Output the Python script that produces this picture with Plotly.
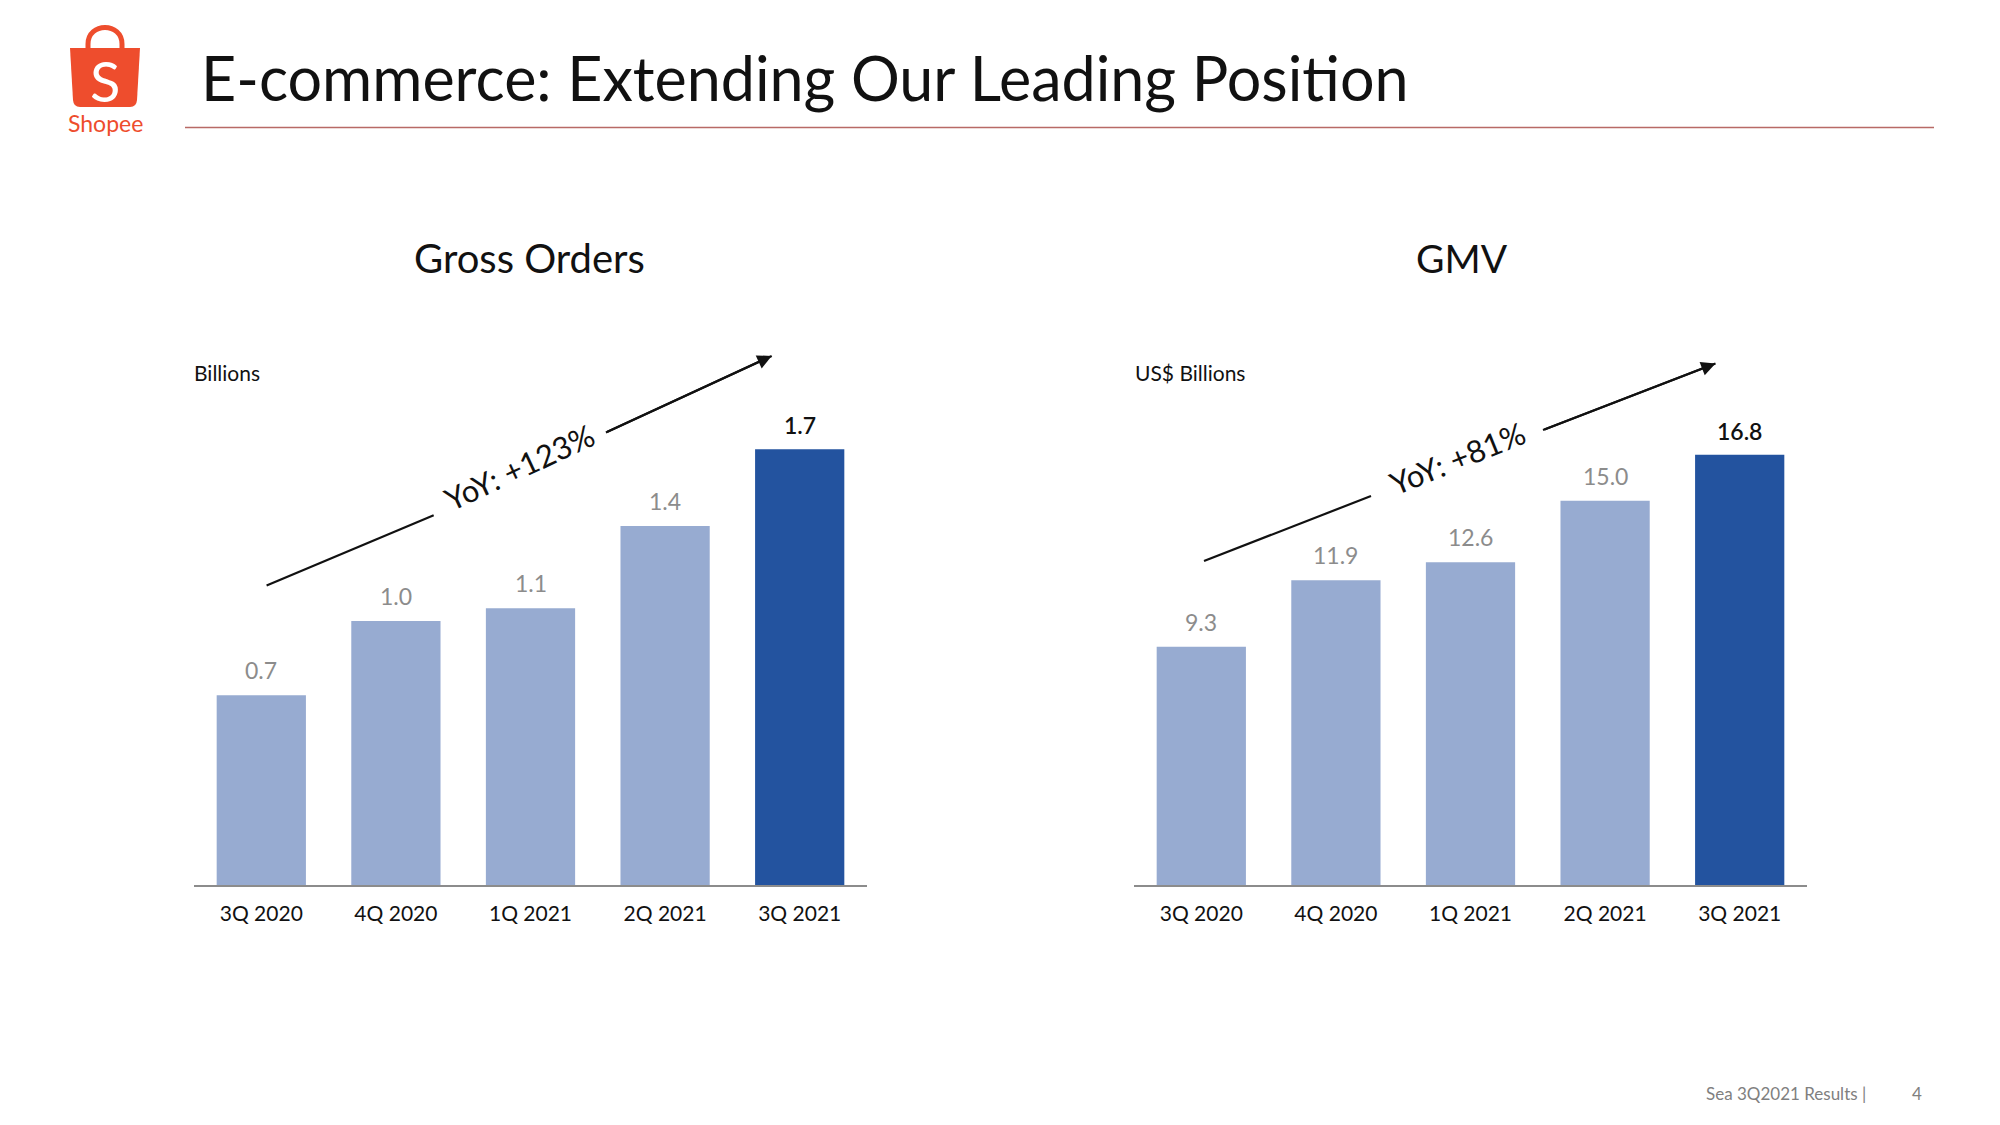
import plotly.graph_objects as go

W, H = 2000, 1125
OFF = 8  # page body margin of the browser

# ---------------- data ----------------
quarters = ["3Q 2020", "4Q 2020", "1Q 2021", "2Q 2021", "3Q 2021"]
gross_orders = [0.74, 1.03, 1.08, 1.40, 1.70]   # billions
gmv = [9.3, 11.9, 12.6, 15.0, 16.8]              # US$ billions
yoy_orders = "YoY: +123%"
yoy_gmv = "YoY: +81%"

LIGHT = "#97abd1"
DARK = "#23539f"
ORANGE = "#ee4d2d"
FONT = "Lato"


def px(x):
    return (x - OFF) / W


def py(y):
    return 1 - (y - OFF) / H


bar_colors = [LIGHT] * (len(quarters) - 1) + [DARK]

fig = go.Figure()
fig.add_trace(go.Bar(x=quarters, y=gross_orders, marker=dict(color=bar_colors, line=dict(width=0)),
                     xaxis="x", yaxis="y", hoverinfo="x+y"))
fig.add_trace(go.Bar(x=quarters, y=gmv, marker=dict(color=bar_colors, line=dict(width=0)),
                     xaxis="x2", yaxis="y2", hoverinfo="x+y"))


def label(x, y, text, size, color="#111111", xanchor="center", yanchor="middle", **kw):
    return dict(x=px(x), y=py(y), xref="paper", yref="paper", text=text, showarrow=False,
                xanchor=xanchor, yanchor=yanchor,
                font=dict(family=FONT, size=size, color=color), **kw)


annotations = []
# data labels from the data
for xa, ya, vals in (("x", "y", gross_orders), ("x2", "y2", gmv)):
    for i, (q, v) in enumerate(zip(quarters, vals)):
        last = i == len(vals) - 1
        annotations.append(dict(
            x=q, y=v, xref=xa, yref=ya, text=f"{v:.1f}", showarrow=False,
            xanchor="center", yanchor="bottom", yshift=8 if last else 9,
            font=dict(family=FONT, size=23, color="#111111" if last else "#8c8c8c",
                      weight=600 if last else 400)))

annotations += [
    label(529, 258, "Gross Orders", 40),
    label(1462, 258, "GMV", 39),
    label(192, 372, "Billions", 21, xanchor="left"),
    label(1133, 372, "US$ Billions", 21, xanchor="left"),
    label(519, 467, yoy_orders, 31, textangle=-25),
    label(1457, 458, yoy_gmv, 31, textangle=-22),
    label(199, 77, "E-commerce: Extending Our Leading Position", 61, xanchor="left"),
    label(105, 80, "S", 56, color="white"),
    label(105, 123, "Shopee", 23, color=ORANGE),
    label(1868, 1093, "Sea 3Q2021 Results |", 17, color="#808080", xanchor="right"),
    label(1917, 1093, "4", 17, color="#808080"),
]

# arrow heads
for hx, hy, tx, ty in ((771.7, 355.9, 605.9, 432.4), (1715.5, 363.5, 1543, 430)):
    annotations.append(dict(x=px(hx), y=py(hy), xref="paper", yref="paper", ax=tx - hx, ay=ty - hy,
                            axref="pixel", ayref="pixel", showarrow=True, arrowhead=2, arrowsize=1.3,
                            arrowwidth=2.2, arrowcolor="#111111", text="", standoff=0))


def seg(x0, y0, x1, y1, color="#111111", width=2.2):
    return dict(type="line", xref="paper", yref="paper", x0=px(x0), y0=py(y0), x1=px(x1), y1=py(y1),
                line=dict(color=color, width=width))


def P(x, y):
    return f"{px(x):.5f},{py(y):.5f}"


bag_body = (f"M {P(70,48)} L {P(140,48)} L {P(137,100)} Q {P(136.5,107)} {P(130,107)} "
            f"L {P(80,107)} Q {P(73.5,107)} {P(73,100)} Z")
bag_handle = f"M {P(88,50)} L {P(88,44)} C {P(88,22)} {P(122,22)} {P(122,44)} L {P(122,50)}"

shapes = [
    seg(266.6, 585.5, 433.7, 515.3),
    seg(605.9, 432.4, 771.7, 355.9),
    seg(1204, 561, 1371, 496),
    seg(1543, 430, 1715.5, 363.5),
    seg(185, 127.5, 1934, 127.5, color="#b86a66", width=1.6),
    dict(type="path", xref="paper", yref="paper", path=bag_body, fillcolor=ORANGE, line=dict(width=0),
         layer="below"),
    dict(type="path", xref="paper", yref="paper", path=bag_handle, line=dict(color=ORANGE, width=5)),
]

axis_common = dict(type="category", showline=True, linecolor="#8c8c8c", linewidth=2, ticks="",
                   showgrid=False, zeroline=False, tickfont=dict(family=FONT, size=21, color="#111111"),
                   ticklabelstandoff=9, fixedrange=True)
y_common = dict(visible=False, showgrid=False, zeroline=False, fixedrange=True)

fig.update_layout(
    width=W, height=H, margin=dict(l=0, r=0, t=0, b=0),
    paper_bgcolor="white", plot_bgcolor="white", showlegend=False,
    bargap=0.337,
    xaxis=dict(domain=[px(194), px(867)], anchor="y", **axis_common),
    yaxis=dict(domain=[py(885), py(340)], range=[0, 2.126], anchor="x", **y_common),
    xaxis2=dict(domain=[px(1134), px(1807)], anchor="y2", **axis_common),
    yaxis2=dict(domain=[py(885), py(340)], range=[0, 21.28], anchor="x2", **y_common),
    annotations=annotations,
    shapes=shapes,
    font=dict(family=FONT),
)

fig.write_html("out.html")
